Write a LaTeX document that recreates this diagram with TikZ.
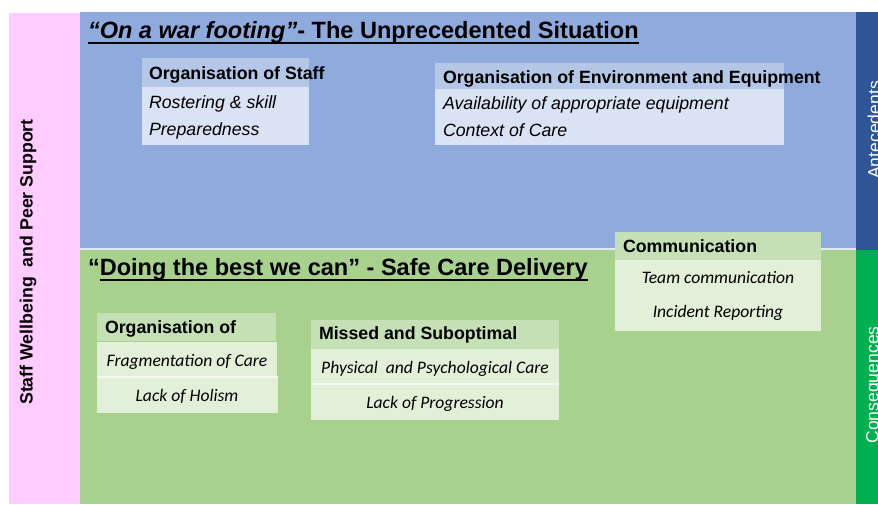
\documentclass[tikz,border=0pt]{standalone}
\usepackage{fontspec}
\setmainfont{Liberation Sans}
\newfontfamily\calfont{Carlito}
\definecolor{pinkside}{HTML}{FFCCFF}
\definecolor{bluebg}{HTML}{8FAADC}
\definecolor{bluedark}{HTML}{2F5597}
\definecolor{bluehead}{HTML}{B4C7E7}
\definecolor{bluebody}{HTML}{DAE3F3}
\definecolor{greenbg}{HTML}{A9D18E}
\definecolor{greendark}{HTML}{00B050}
\definecolor{greenhead}{HTML}{C5E0B4}
\definecolor{greenbody}{HTML}{E2F0D9}
\begin{document}
\begin{tikzpicture}[x=0.02cm,y=-0.02cm,
    every node/.style={inner sep=0pt,outer sep=0pt},
    ttl/.style={anchor=base west,font=\fontsize{13.4}{16}\selectfont\bfseries},
    hdr/.style={anchor=base west,font=\fontsize{10.1}{12}\selectfont\bfseries},
    itm/.style={anchor=base west,font=\fontsize{10.1}{12}\selectfont\itshape},
    cal/.style={anchor=base,font=\fontsize{10}{12}\selectfont\calfont\itshape},
    side/.style={rotate=90,font=\fontsize{10}{12}\selectfont,text=white},
    rowline/.style={draw=white!60!greenbody,line width=0.6pt}]
    \useasboundingbox (0,0) rectangle (878,504);
    \clip (0,0) rectangle (878,504);

    % Background bands
    \fill[pinkside] (9,13) rectangle (80,504);
    \fill[bluebg] (80,12) rectangle (856,249);
    \fill[greenbg] (80,249) rectangle (856,504);
    \fill[bluedark] (856,12) rectangle (878,250);
    \fill[greendark] (856,250) rectangle (878,504);
    \draw[white!75!bluebg,line width=0.8pt] (80,249) -- (856,249);

    % Side labels
    \node[rotate=90,font=\fontsize{10.1}{12}\selectfont\bfseries] (wellbeing) at (28,262) {Staff Wellbeing\ \ and Peer Support};
    \node[side] (antec) at (874,130) {Antecedents};
    \node[side] (conseq) at (874,385) {Consequences};

    % Antecedents: the unprecedented situation
    \node[ttl] (title1) at (88,38) {\textit{“On a war footing”}- The Unprecedented Situation};
    \draw[line width=1.1pt] (title1.south west) -- (title1.south east);

    % Organisation of Staff
    \fill[bluehead] (142,58) rectangle (309,87);
    \fill[bluebody] (142,87) rectangle (309,145);
    \node[hdr] (staff) at (149,79) {Organisation of Staff};
    \node[itm] (roster) at (149,108) {Rostering \& skill};
    \node[itm] (prep) at (149,135) {Preparedness};

    % Organisation of Environment and Equipment
    \fill[bluehead] (435,63) rectangle (784,89);
    \fill[bluebody] (435,89) rectangle (784,145);
    \node[hdr] (environ) at (443,83) {Organisation of Environment and Equipment};
    \node[itm] (avail) at (443,109) {Availability of appropriate equipment};
    \node[itm] (context) at (443,136) {Context of Care};

    % Consequences: safe care delivery
    \node[ttl] (quote2) at (88,275) {“};
    \node[ttl] (title2) at (quote2.base east) {Doing the best we can” - Safe Care Delivery};
    \draw[line width=1.1pt] (title2.south west) -- (title2.south east);

    % Communication
    \fill[greenhead] (615,232) rectangle (821,260);
    \fill[greenbody] (615,260) rectangle (821,331);
    \node[hdr] (comm) at (623,252) {Communication};
    \node[cal] (team) at (718,283) {Team communication};
    \node[cal] (incident) at (718,317) {Incident Reporting};

    % Organisation of (care)
    \fill[greenhead] (97,313) rectangle (276,341);
    \fill[greenbody] (97,342) rectangle (277,377);
    \fill[greenbody] (97,377) rectangle (278,413);
    \draw[rowline] (97,377) -- (278,377);
    \node[hdr] (orgcare) at (105,333) {Organisation of};
    \node[cal] (fragment) at (187,366) {Fragmentation of Care};
    \node[cal] (holism) at (187,401) {Lack of Holism};

    % Missed and Suboptimal
    \fill[greenhead] (311,320) rectangle (559,349);
    \fill[greenbody] (311,349) rectangle (559,384);
    \fill[greenbody] (311,384) rectangle (559,420);
    \draw[rowline] (311,384) -- (559,384);
    \node[hdr] (missed) at (319,339) {Missed and Suboptimal};
    \node[cal] (physical) at (435,373) {Physical\ \ and Psychological Care};
    \node[cal] (progress) at (435,408) {Lack of Progression};

\end{tikzpicture}
\end{document}
